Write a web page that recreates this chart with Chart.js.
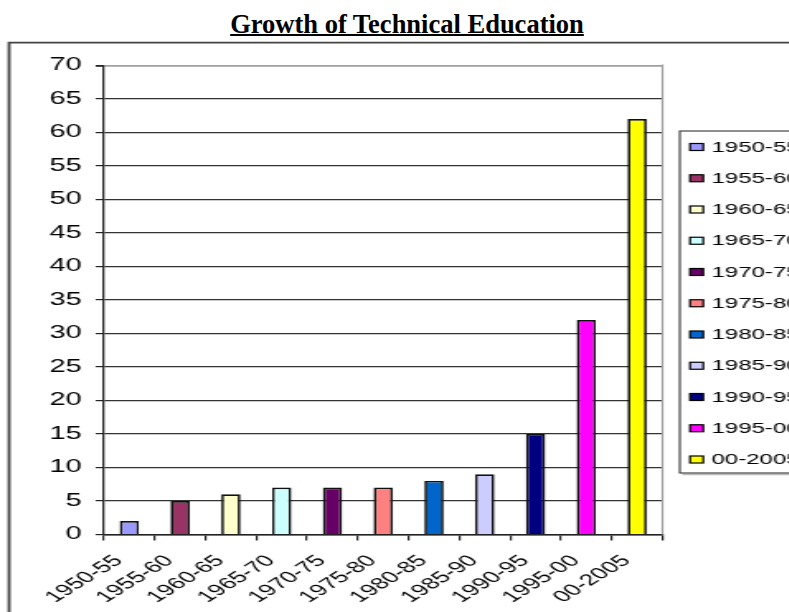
<!DOCTYPE html>
<html>
<head>
<meta charset="utf-8">
<script src="https://cdn.jsdelivr.net/npm/chart.js@4.4.0/dist/chart.umd.min.js"></script>
<style>
  html, body { margin: 0; padding: 0; background: #fff; overflow: hidden; width: 789px; height: 612px; }
  #title {
    position: absolute; left: 0; top: 11px; width: 814px; text-align: center;
    font: bold 26.5px "Liberation Serif", "Times New Roman", serif; line-height: 26.5px;
    text-decoration: underline; text-decoration-thickness: 2px; color: #000;
  }
  /* the original chart is a horizontally stretched picture, so stretch the canvas the same way */
  #wrap { position: absolute; left: 0; top: 0; width: 480px; height: 612px; transform: scaleX(1.65); transform-origin: 0 0; }
</style>
</head>
<body>
<div id="title">Growth of Technical Education</div>
<div id="wrap"><canvas id="chart" width="480" height="612"></canvas></div>
<script>
const periods = ['1950-55', '1955-60', '1960-65', '1965-70', '1970-75', '1975-80',
                 '1980-85', '1985-90', '1990-95', '1995-00', '00-2005'];
const growth = [2, 5, 6, 7, 7, 7, 8, 9, 15, 32, 62];
const barColors = ['#9999FF', '#993366', '#FFFFCC', '#CCFFFF', '#660066', '#FF8080',
                   '#0066CC', '#CCCCFF', '#000080', '#FF00FF', '#FFFF00'];
const yMin = 0, yMax = 70, yStep = 5;

const font = '"Liberation Sans", Arial, sans-serif';

// outer chart frame, plot border on the right
const framePlugin = {
    id: 'frame',
    beforeDraw(chart) {
        const ctx = chart.ctx;
        ctx.save();
        ctx.strokeStyle = '#444';
        ctx.lineWidth = 1.8;
        ctx.beginPath();
        ctx.moveTo(5.5, 700);
        ctx.lineTo(5.5, 42.7);
        ctx.lineTo(520, 42.7);
        ctx.stroke();
        ctx.restore();
    },
    afterDraw(chart) {
        const ctx = chart.ctx;
        const a = chart.chartArea;
        ctx.save();
        ctx.strokeStyle = '#a0a0a0';
        ctx.lineWidth = 1.2;
        ctx.beginPath();
        ctx.moveTo(a.right, a.top - 1);
        ctx.lineTo(a.right, a.bottom);
        ctx.stroke();
        ctx.restore();
    }
};

// legend box on the right, one entry per period
const legendPlugin = {
    id: 'sideLegend',
    afterDraw(chart) {
        const ctx = chart.ctx;
        const left = 412, top = 131, bottom = 473, right = 520;
        const firstY = 147, step = 31.25;
        ctx.save();
        ctx.fillStyle = '#fff';
        ctx.fillRect(left, top, right - left, bottom - top);
        ctx.strokeStyle = '#bbb';
        ctx.lineWidth = 1.5;
        ctx.beginPath();
        ctx.moveTo(left + 1.5, bottom + 1.5);
        ctx.lineTo(right, bottom + 1.5);
        ctx.stroke();
        ctx.strokeStyle = '#333';
        ctx.lineWidth = 1.1;
        ctx.strokeRect(left, top, right - left, bottom - top);

        ctx.font = '14.5px ' + font;
        ctx.textBaseline = 'middle';
        ctx.textAlign = 'left';
        periods.forEach((p, i) => {
            const y = firstY + i * step;
            ctx.fillStyle = barColors[i];
            ctx.fillRect(418.2, y - 3.5, 8, 7);
            ctx.strokeStyle = '#000';
            ctx.lineWidth = 1.2;
            ctx.strokeRect(418.2, y - 3.5, 8, 7);
            ctx.fillStyle = '#000';
            ctx.fillText(p, 431.3, y + 0.5);
        });
        ctx.restore();
    }
};

new Chart(document.getElementById('chart'), {
    type: 'bar',
    data: {
        labels: periods,
        datasets: [{
            data: growth,
            backgroundColor: barColors,
            borderColor: '#111',
            borderWidth: 1.7,
            barPercentage: 0.38,
            categoryPercentage: 1
        }]
    },
    options: {
        responsive: false,
        animation: false,
        layout: { padding: { left: 0, right: 78.5, top: 65.5, bottom: 0 } },
        plugins: { legend: { display: false }, tooltip: { enabled: false } },
        scales: {
            x: {
                offset: true,
                grid: { offset: true, drawOnChartArea: false, drawTicks: true, tickLength: 6, color: '#222', lineWidth: 1.2 },
                border: { color: '#222', width: 1.5 },
                ticks: { autoSkip: false, minRotation: 45, maxRotation: 45, color: '#000', padding: 11, labelOffset: -6.5, font: { family: font, size: 16 } },
                afterFit(scale) { scale.height = 77.5; }
            },
            y: {
                min: yMin,
                max: yMax,
                ticks: { stepSize: yStep, color: '#000', padding: 8.5, font: { family: font, size: 17.5 } },
                grid: {
                    tickLength: 5,
                    tickColor: '#222',
                    color: ctx => ctx.tick && ctx.tick.value === yMax ? '#a0a0a0' : '#333',
                    lineWidth: ctx => ctx.tick && ctx.tick.value === yMax ? 1.8 : 1.2
                },
                border: { color: '#222', width: 1.3 },
                afterFit(scale) { scale.width = 63; }
            }
        }
    },
    plugins: [framePlugin, legendPlugin]
});
</script>
</body>
</html>
